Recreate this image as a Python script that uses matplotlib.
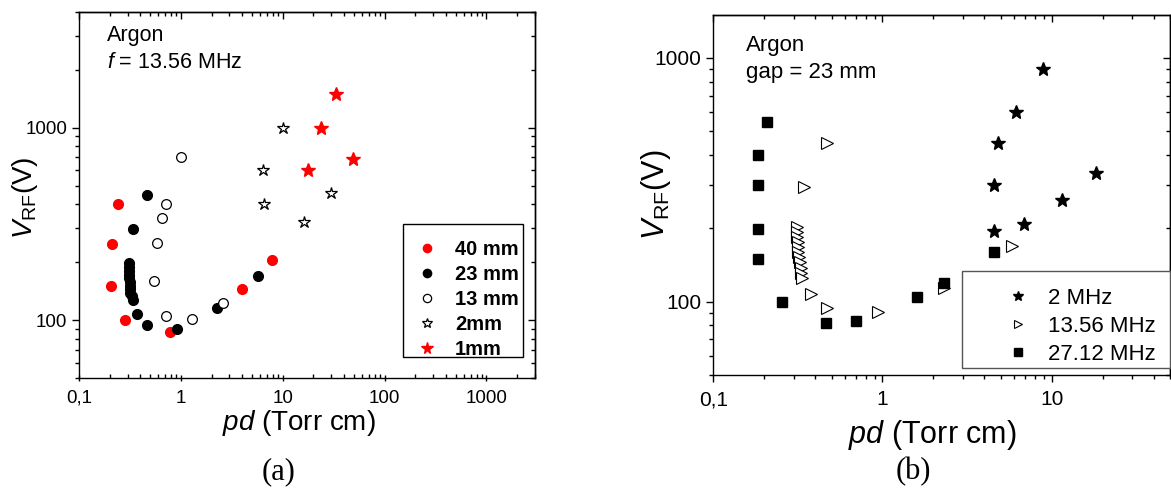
import matplotlib
matplotlib.use('Agg')
import matplotlib.pyplot as plt
from matplotlib.patches import Rectangle
from matplotlib.ticker import FuncFormatter, LogLocator, NullFormatter

plt.rcParams['font.family'] = 'Liberation Sans'
plt.rcParams['mathtext.fontset'] = 'custom'
plt.rcParams['mathtext.rm'] = 'Liberation Sans'
plt.rcParams['mathtext.it'] = 'Liberation Sans:italic'
plt.rcParams['mathtext.bf'] = 'Liberation Sans:bold'

# ---- (a) Argon, f = 13.56 MHz, different gaps
pd_40 = [0.24, 0.21, 0.206, 0.28, 0.79, 3.95, 7.9]
v_40 = [401, 249, 150, 100, 87, 145, 205]

pd_23 = [0.46, 0.335, 0.31, 0.31, 0.31, 0.31, 0.31, 0.315, 0.315, 0.32, 0.32, 0.33, 0.335,
         0.367, 0.46, 0.92, 2.27, 5.75]
v_23 = [447, 296, 198, 188, 180, 172, 165, 158, 151, 145, 139, 133, 127,
        107, 94, 90, 115, 169]

pd_13 = [1.0, 0.71, 0.65, 0.58, 0.54, 0.71, 1.30, 2.57]
v_13 = [706, 401, 340, 252, 160, 105, 101, 123]

pd_2 = [10.0, 6.36, 6.55, 29.6, 16.0]
v_2 = [1000, 600, 401, 459, 322]

pd_1 = [33.4, 23.8, 49.5, 17.7]
v_1 = [1503, 1000, 690, 600]

# ---- (b) Argon, gap = 23 mm, different frequencies
pd_2mhz = [8.9, 6.18, 4.83, 4.56, 18.2, 11.45, 6.89, 4.56]
v_2mhz = [902, 599, 447, 300, 336, 261, 209, 195]

pd_13mhz = [0.468, 0.345, 0.311, 0.312, 0.314, 0.315, 0.316, 0.318, 0.32, 0.324, 0.328,
            0.332, 0.334, 0.376, 0.468, 0.94, 2.31, 5.85]
v_13mhz = [447, 295, 203, 193, 184, 176, 168, 160, 152, 145, 138,
           131, 125, 107, 94, 91, 114, 169]

pd_27mhz = [0.207, 0.185, 0.185, 0.185, 0.185, 0.256, 0.462, 0.695, 1.61, 2.30, 4.58]
v_27mhz = [548, 400, 300, 199, 150, 100, 82, 83.6, 104, 119.6, 160]


def fmt(v, pos):
    if v < 1:
        return '0,1'
    return '%d' % round(v)


def style_axes(ax, xlim, ylim, tick_fs, bottom_dir):
    ax.set_xscale('log')
    ax.set_yscale('log')
    ax.set_xlim(*xlim)
    ax.set_ylim(*ylim)
    for s in ax.spines.values():
        s.set_linewidth(1.0)
    ax.xaxis.set_major_locator(LogLocator(base=10, numticks=20))
    ax.xaxis.set_minor_locator(LogLocator(base=10, subs=range(2, 10), numticks=20))
    ax.yaxis.set_major_locator(LogLocator(base=10, numticks=20))
    ax.yaxis.set_minor_locator(LogLocator(base=10, subs=range(2, 10), numticks=20))
    ax.xaxis.set_major_formatter(FuncFormatter(fmt))
    ax.yaxis.set_major_formatter(FuncFormatter(fmt))
    ax.xaxis.set_minor_formatter(NullFormatter())
    ax.yaxis.set_minor_formatter(NullFormatter())
    ax.tick_params(axis='y', which='major', direction='out', length=5, width=1, labelsize=tick_fs)
    ax.tick_params(axis='y', which='minor', direction='out', length=3, width=1)
    ax.tick_params(axis='x', which='major', direction=bottom_dir[0], length=5, width=1,
                   labelsize=tick_fs, pad=6)
    ax.tick_params(axis='x', which='minor', direction=bottom_dir[1], length=3, width=1)
    ax.tick_params(top=False, right=False)
    # mirrored ticks pointing inward on top and right
    top = ax.secondary_xaxis('top')
    top.tick_params(which='major', direction='in', length=5, width=1, labeltop=False)
    top.tick_params(which='minor', direction='in', length=3, width=1)
    right = ax.secondary_yaxis('right')
    right.tick_params(which='major', direction='in', length=5, width=1, labelright=False)
    right.tick_params(which='minor', direction='in', length=3, width=1)
    for sa in (top, right):
        for s in sa.spines.values():
            s.set_linewidth(1.0)


def boxed_legend(ax, frame, anchor, edge, **kw):
    # Origin-like legend: frame drawn separately so the inner padding can be uneven
    ax.add_patch(Rectangle(frame[:2], frame[2], frame[3], transform=ax.transAxes,
                           facecolor='white', edgecolor=edge, lw=1.0, zorder=4,
                           clip_on=False))
    leg = ax.legend(loc='upper left', bbox_to_anchor=anchor, borderaxespad=0, borderpad=0,
                    frameon=False, **kw)
    leg.set_zorder(5)
    return leg


fig = plt.figure(figsize=(11.71, 4.95), dpi=100)

# ---------------- (a)
ax1 = fig.add_axes([0.0675, 0.2364, 0.3894, 0.74])
style_axes(ax1, (0.1, 3000), (50, 4000), 13.5, ('inout', 'in'))
ax1.plot(pd_40, v_40, 'o', color='red', ms=7, mec='red', ls='none', label='40 mm')
ax1.plot(pd_23, v_23, 'o', color='black', ms=7, ls='none', label='23 mm')
ax1.plot(pd_13, v_13, 'o', mfc='white', mec='black', mew=0.9, ms=7, ls='none', label='13 mm')
ax1.plot(pd_2, v_2, '*', mfc='white', mec='black', mew=0.9, ms=9, ls='none', label='2mm')
ax1.plot(pd_1, v_1, '*', color='red', ms=10, ls='none', label='1mm')
boxed_legend(ax1, (0.7105, 0.0573, 0.263, 0.363), (0.741, 0.377), 'black',
             prop={'weight': 'bold', 'size': 14.5}, handlelength=1.0, handletextpad=0.9,
             labelspacing=0.30, markerscale=0.85)
ax1.text(0.0614, 0.936, 'Argon', transform=ax1.transAxes, fontsize=15.5, va='center')
ax1.text(0.0614, 0.86, r'$\mathit{f}$ = 13.56 MHz', transform=ax1.transAxes,
         fontsize=15.5, va='center')
fig.text(299 / 1171, 1 - 423 / 495, r'$pd$ (Torr cm)', fontsize=20, ha='center', va='center')
fig.text(25 / 1171, 1 - 198 / 495, r'$V_{\mathrm{RF}}$(V)', fontsize=20, rotation=90,
         ha='center', va='center')
fig.text(279 / 1171, 1 - 472 / 495, '(a)', fontsize=22, family='Liberation Serif',
         ha='center', va='center')

# ---------------- (b)
ax2 = fig.add_axes([0.6091, 0.2424, 0.39, 0.7273])
style_axes(ax2, (0.1, 50), (50, 1500), 15, ('out', 'out'))
ax2.plot(pd_2mhz, v_2mhz, '*', color='black', ms=10, ls='none', label='2 MHz')
ax2.plot(pd_13mhz, v_13mhz, '>', mfc='white', mec='black', mew=0.8, ms=8, ls='none',
         label='13.56 MHz')
ax2.plot(pd_27mhz, v_27mhz, 's', color='black', ms=7, ls='none', label='27.12 MHz')
boxed_legend(ax2, (0.544, 0.020, 0.456, 0.269), (0.643, 0.241), '#555555',
             prop={'size': 16}, handlelength=1.0, handletextpad=0.85,
             labelspacing=0.31, markerscale=0.75)
ax2.text(0.0716, 0.914, 'Argon', transform=ax2.transAxes, fontsize=16, va='center')
ax2.text(0.0716, 0.84, 'gap = 23 mm', transform=ax2.transAxes, fontsize=16, va='center')
fig.text(932 / 1171, 1 - 435 / 495, r'$pd$ (Torr cm)', fontsize=22, ha='center', va='center')
fig.text(656 / 1171, 1 - 195 / 495, r'$V_{\mathrm{RF}}$(V)', fontsize=22, rotation=90,
         ha='center', va='center')
fig.text(913 / 1171, 1 - 472 / 495, '(b)', fontsize=22, family='Liberation Serif',
         ha='center', va='center')

fig.savefig('out.png', dpi=100)
